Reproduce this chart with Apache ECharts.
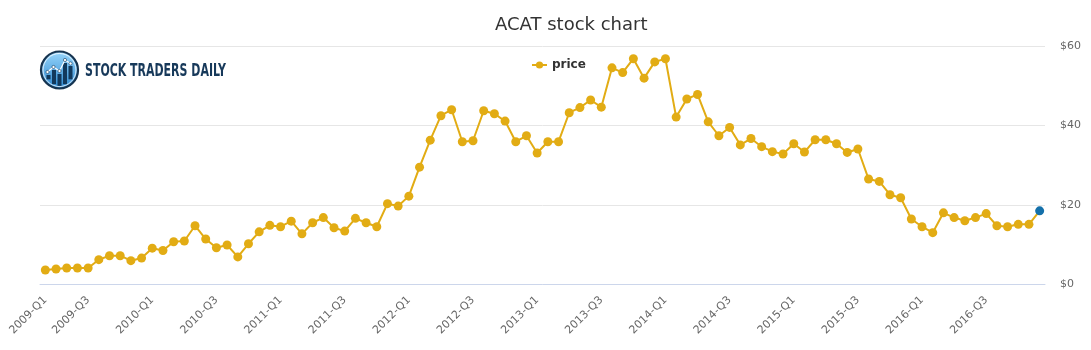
<!DOCTYPE html>
<html>
<head>
<meta charset="utf-8">
<title>ACAT stock chart</title>
<script src="https://cdn.jsdelivr.net/npm/echarts@6/dist/echarts.min.js"></script>
<style>
  html, body { margin: 0; padding: 0; background: #ffffff; }
  #chart { width: 1091px; height: 350px; }
</style>
</head>
<body>
<div id="chart"></div>
<script>
// Monthly closing prices, March 2009 to December 2016
const months = [
  '2009-03','2009-04','2009-05','2009-06','2009-07','2009-08','2009-09','2009-10','2009-11','2009-12',
  '2010-01','2010-02','2010-03','2010-04','2010-05','2010-06','2010-07','2010-08','2010-09','2010-10','2010-11','2010-12',
  '2011-01','2011-02','2011-03','2011-04','2011-05','2011-06','2011-07','2011-08','2011-09','2011-10','2011-11','2011-12',
  '2012-01','2012-02','2012-03','2012-04','2012-05','2012-06','2012-07','2012-08','2012-09','2012-10','2012-11','2012-12',
  '2013-01','2013-02','2013-03','2013-04','2013-05','2013-06','2013-07','2013-08','2013-09','2013-10','2013-11','2013-12',
  '2014-01','2014-02','2014-03','2014-04','2014-05','2014-06','2014-07','2014-08','2014-09','2014-10','2014-11','2014-12',
  '2015-01','2015-02','2015-03','2015-04','2015-05','2015-06','2015-07','2015-08','2015-09','2015-10','2015-11','2015-12',
  '2016-01','2016-02','2016-03','2016-04','2016-05','2016-06','2016-07','2016-08','2016-09','2016-10','2016-11','2016-12'
];

const price = [
  3.6, 3.85, 4.1, 4.1, 4.1, 6.2, 7.2, 7.2, 5.95, 6.6,
  9.1, 8.5, 10.7, 10.9, 14.75, 11.4, 9.2, 9.9, 6.9, 10.2, 13.2, 14.85,
  14.5, 15.9, 12.7, 15.5, 16.8, 14.25, 13.4, 16.6, 15.5, 14.5, 20.3, 19.7,
  22.2, 29.5, 36.3, 42.45, 43.96, 35.9, 36.15, 43.7, 42.95, 41.1, 35.9, 37.4,
  33.06, 35.9, 35.9, 43.2, 44.5, 46.4, 44.6, 54.5, 53.3, 56.8, 51.9, 56.0,
  56.8, 42.1, 46.65, 47.8, 40.9, 37.4, 39.5, 35.1, 36.7, 34.65, 33.4, 32.8,
  35.4, 33.3, 36.4, 36.4, 35.4, 33.2, 34.06, 26.5, 25.9, 22.55, 21.8, 16.45,
  14.5, 13.0, 18.0, 16.8, 16.0, 16.8, 17.8, 14.75, 14.5, 15.1, 15.1, 18.5
];

const yTicks = [0, 20, 40, 60];

const FONT = 'DejaVu Sans';
const LINE_COLOR = '#e2ac14';
const LAST_COLOR = '#1470aa';

function quarterLabel(m) {
  const [y, mm] = m.split('-');
  return y + '-Q' + Math.ceil(parseInt(mm, 10) / 3);
}

// Brand text is drawn in a narrow face; squeeze it to its box width
function brandScale(text, font, targetWidth) {
  const ctx = document.createElement('canvas').getContext('2d');
  ctx.font = font;
  const w = ctx.measureText(text).width;
  return w > 0 ? targetWidth / w : 1;
}

// Logo: round badge with small bar chart and trend line
function logoElements() {
  const cx = 59.5, cy = 70, r = 18.5;
  const els = [];
  els.push({
    type: 'circle', shape: { cx, cy, r },
    style: {
      fill: new echarts.graphic.LinearGradient(0, 0, 0, 1, [
        { offset: 0, color: '#9bd8fc' },
        { offset: 1, color: '#2a86cf' }
      ]),
      stroke: '#17344f', lineWidth: 2.2
    }
  });
  els.push({
    type: 'circle', shape: { cx, cy, r: r - 2 },
    style: { fill: 'none', stroke: '#ffffff', lineWidth: 0.8 }
  });
  const bars = [[46.5, 75], [52, 70], [57.5, 74], [63, 63], [68.5, 66]];
  bars.forEach(([x, top]) => {
    const dx = Math.max(Math.abs(x - cx), Math.abs(x + 4 - cx));
    const bottom = cy + Math.sqrt(Math.max(0, (r - 2.5) * (r - 2.5) - dx * dx));
    els.push({
      type: 'rect', shape: { x, y: top, width: 4, height: bottom - top },
      style: { fill: '#12395c' }
    });
  });
  const pts = [[47.5, 72], [53.5, 67], [59.5, 71], [65, 60], [70.5, 63.5]];
  els.push({
    type: 'polyline', shape: { points: pts },
    style: { stroke: '#ffffff', lineWidth: 1.2, fill: 'none' }
  });
  pts.forEach(([x, y]) => {
    els.push({ type: 'circle', shape: { cx: x, cy: y, r: 1.6 }, style: { fill: '#ffffff', stroke: '#12395c', lineWidth: 0.6 } });
  });
  const brand = 'STOCK TRADERS DAILY';
  const brandFont = 'bold 18px "DejaVu Sans Condensed", "DejaVu Sans"';
  const sx = brandScale(brand, brandFont, 141);
  els.push({
    type: 'text', x: 85, y: 71, scaleX: sx,
    style: {
      text: brand, font: brandFont, fill: '#17395a',
      textAlign: 'left', textVerticalAlign: 'middle'
    }
  });
  return els;
}

const chart = echarts.init(document.getElementById('chart'), null, { renderer: 'canvas' });

const lastIdx = price.length - 1;
const seriesData = price.map((v, i) =>
  i === lastIdx ? { value: v, itemStyle: { color: LAST_COLOR } } : v
);

chart.setOption({
  animation: false,
  backgroundColor: '#ffffff',
  title: {
    text: 'ACAT stock chart',
    left: 490, top: 11,
    textStyle: { fontFamily: FONT, fontSize: 18, fontWeight: 'normal', color: '#333333' }
  },
  legend: {
    data: ['price'],
    left: 526, top: 54,
    itemWidth: 15, itemHeight: 9, itemGap: 10,
    textStyle: { fontFamily: FONT, fontSize: 12, fontWeight: 'bold', color: '#333333' }
  },
  grid: { left: 40, right: 46, top: 46, bottom: 65.7, containLabel: false },
  xAxis: {
    type: 'category',
    data: months,
    boundaryGap: true,
    axisLine: { show: true, lineStyle: { color: '#ccd6eb', width: 1 } },
    axisTick: { show: false },
    splitLine: { show: false },
    axisLabel: {
      rotate: 45,
      margin: 14,
      color: '#666666',
      fontFamily: FONT,
      fontSize: 11,
      interval: (idx, val) => idx === 0 || val.endsWith('-01') || val.endsWith('-07'),
      formatter: (val) => quarterLabel(val)
    }
  },
  yAxis: {
    type: 'value',
    position: 'right',
    min: yTicks[0], max: yTicks[yTicks.length - 1], interval: 20,
    axisLine: { show: false },
    axisTick: { show: false },
    splitLine: { show: true, lineStyle: { color: '#e6e6e6', width: 1 } },
    axisLabel: {
      margin: 15,
      color: '#666666',
      fontFamily: FONT,
      fontSize: 11,
      formatter: (v) => '$' + v
    }
  },
  series: [{
    name: 'price',
    type: 'line',
    data: seriesData,
    symbol: 'circle',
    symbolSize: 9,
    showSymbol: true,
    showAllSymbol: true,
    lineStyle: { color: LINE_COLOR, width: 2 },
    itemStyle: { color: LINE_COLOR },
    emphasis: { disabled: true }
  }],
  graphic: logoElements()
});
</script>
</body>
</html>
